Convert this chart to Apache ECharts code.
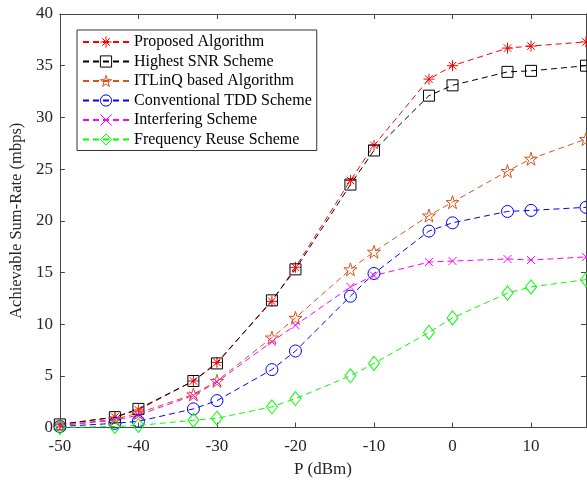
<!DOCTYPE html>
<html><head><meta charset="utf-8">
<script src="https://cdn.jsdelivr.net/npm/echarts@6/dist/echarts.min.js"></script>
<style>html,body{margin:0;padding:0;background:#fff}#c{width:587px;height:483px}</style>
</head><body><div id="c"></div>
<script>
var xValues = [-50, -43, -40, -33, -30, -23, -20, -13, -10, -3, 0, 7, 10, 17];
var proposed = [0.3, 1.0, 1.7, 4.5, 6.3, 12.2, 15.5, 23.9, 27.3, 33.7, 35.0, 36.7, 36.9, 37.3];
var highestSNR = [0.3, 1.0, 1.8, 4.5, 6.2, 12.3, 15.3, 23.5, 26.8, 32.1, 33.1, 34.4, 34.5, 35.0];
var itlinq = [0.2, 0.8, 1.4, 3.2, 4.5, 8.7, 10.6, 15.3, 17.0, 20.5, 21.8, 24.8, 26.0, 27.9];
var tdd = [0.1, 0.4, 0.6, 1.8, 2.6, 5.6, 7.4, 12.7, 14.9, 19.0, 19.8, 20.9, 21.0, 21.3];
var interfering = [0.2, 0.7, 1.2, 3.1, 4.4, 8.3, 9.9, 13.6, 14.7, 16.0, 16.1, 16.3, 16.2, 16.5];
var freqReuse = [0.0, 0.1, 0.2, 0.7, 0.9, 2.0, 2.8, 5.0, 6.2, 9.2, 10.6, 13.0, 13.6, 14.3];
var seriesNames = ['Proposed Algorithm', 'Highest SNR Scheme', 'ITLinQ based Algorithm', 'Conventional TDD Scheme', 'Interfering Scheme', 'Frequency Reuse Scheme'];

var FONT = "'Liberation Serif', 'Times New Roman', serif";
var TXT = '#262626';
var AX = '#444';
var asterisk = 'path://M5,0L5,10M0,5L10,5M1.6,1.6L8.4,8.4M8.4,1.6L1.6,8.4';
var cross = 'path://M0,0L10,10M10,0L0,10';
var star = 'path://M50,0L61.8,35.5L100,35.5L69.1,57.4L80.9,93L50,71L19.1,93L30.9,57.4L0,35.5L38.2,35.5Z';
var colors = ['#ff0000', '#000000', '#d95319', '#0000ff', '#ff00ff', '#00ff00'];
var symbols = [asterisk, 'rect', star, 'circle', cross, 'diamond'];
var sizes = [11, 11, 13, 12, 8, [11, 14]];
var datasets = [proposed, highestSNR, itlinq, tdd, interfering, freqReuse];

function mk(i) {
  var color = colors[i];
  return {
    name: seriesNames[i], type: 'line', data: xValues.map(function (x, k) { return [x, datasets[i][k]]; }),
    symbol: symbols[i], symbolSize: sizes[i], showSymbol: true,
    lineStyle: { color: color, width: 1, type: [6, 4] },
    itemStyle: { color: 'rgba(0,0,0,0)', borderColor: color, borderWidth: 1 },
    emphasis: { disabled: true }, animation: false, z: 3
  };
}

var axisCommon = {
  type: 'value',
  axisLine: { show: true, onZero: false, lineStyle: { color: AX, width: 1 } },
  axisTick: { show: true, inside: true, length: 5, lineStyle: { color: AX } },
  splitLine: { show: false }
};

var chart = echarts.init(document.getElementById('c'), null, { renderer: 'canvas' });
chart.setOption({
  backgroundColor: '#fff',
  animation: false,
  grid: { left: 55, top: 14, right: 1, bottom: 50, containLabel: false },
  legend: {
    orient: 'vertical', left: 77, top: 30,
    data: seriesNames.map(function (n, i) {
      return { name: n,
        itemStyle: { color: 'rgba(0,0,0,0)', borderColor: colors[i], borderWidth: 1 } };
    }),
    itemWidth: 46, itemHeight: 14, itemGap: 3.5,
    padding: [4, 5, 3, 5],
    borderColor: '#333', borderWidth: 1, backgroundColor: '#fff',
    textStyle: { fontFamily: FONT, fontSize: 16, color: '#000' },
    selectedMode: false
  },
  xAxis: [
    Object.assign({}, axisCommon, {
      min: -50, max: 17, interval: 10, position: 'bottom',
      name: 'P (dBm)', nameLocation: 'middle', nameGap: 33.5,
      nameTextStyle: { fontFamily: FONT, fontSize: 17, color: TXT },
      axisLabel: { fontFamily: FONT, fontSize: 17, color: TXT, margin: 10.5, showMaxLabel: false }
    }),
    Object.assign({}, axisCommon, {
      min: -50, max: 17, interval: 10, position: 'top',
      axisLabel: { show: false }
    })
  ],
  yAxis: [
    Object.assign({}, axisCommon, {
      min: 0, max: 40, interval: 5, position: 'left',
      name: 'Achievable Sum-Rate (mbps)', nameLocation: 'middle', nameGap: 25,
      nameTextStyle: { fontFamily: FONT, fontSize: 16.5, color: TXT },
      axisLabel: { fontFamily: FONT, fontSize: 17, color: TXT, margin: 7 }
    }),
    Object.assign({}, axisCommon, {
      min: 0, max: 40, interval: 5, position: 'right',
      axisLabel: { show: false }
    })
  ],
  series: [0, 1, 2, 3, 4, 5].map(mk)
});
</script></body></html>
